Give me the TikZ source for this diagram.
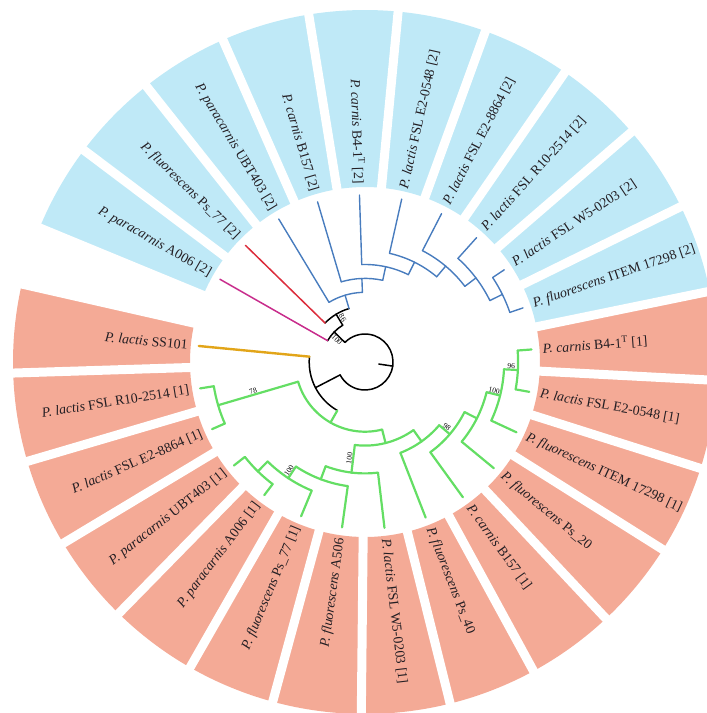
\documentclass[tikz,border=0pt]{standalone}
\usepackage{fontspec}
\setmainfont{Liberation Serif}
\definecolor{wblue}{RGB}{191,233,247}
\definecolor{wred}{RGB}{244,170,150}
\definecolor{bblue}{RGB}{72,124,190}
\definecolor{bgreen}{RGB}{100,222,100}
\definecolor{bred}{RGB}{220,45,60}
\definecolor{bmag}{RGB}{200,45,140}
\definecolor{borange}{RGB}{226,165,25}
\definecolor{txt}{RGB}{35,30,35}
\newcommand\tbranch[7]{%
  \draw[#6] (#1) arc[start angle=#2, end angle=#5, radius=#3pt] coordinate (#4e);
  \draw[#7] (#4e) -- (#4);
}
\begin{document}
\begin{tikzpicture}[x=1pt,y=1pt,
  lab/.style={font=\fontsize{13.8}{15}\selectfont, text=txt, inner sep=0pt},
  labr/.style={lab, anchor=west},
  labl/.style={lab, anchor=east},
  bs/.style={font=\fontsize{7.5}{8}\selectfont, inner sep=1pt, text=black},
  kb/.style={draw=black, line width=1.5pt, line cap=round},
  bb/.style={draw=bblue, line width=1.4pt, line cap=round},
  gb/.style={draw=bgreen, line width=2.2pt, line cap=round},
  ob/.style={draw=borange, line width=2.4pt, line cap=round},
  rb/.style={draw=bred, line width=1.5pt, line cap=round},
  mb/.style={draw=bmag, line width=1.5pt, line cap=round}]
\useasboundingbox (-365pt,-351pt) rectangle (342pt,362pt);
\clip (-365pt,-351pt) rectangle (342pt,362pt);
% wedges
\foreach \a/\c in {174.5/wred,189.1/wred,203.7/wred,218.3/wred,232.9/wred,247.5/wred,262.1/wred,276.7/wred,291.3/wred,305.9/wred,320.5/wred,335.1/wred,349.7/wred,364.3/wred,378.9/wblue,393.5/wblue,408.1/wblue,422.7/wblue,437.3/wblue,451.9/wblue,466.5/wblue,481.1/wblue,495.7/wblue,510.3/wblue}{%
  \pgfmathsetmacro\lo{\a-7.3}\pgfmathsetmacro\hi{\a+7.3}
  \fill[\c] (\lo:175pt) arc[start angle=\lo, end angle=\hi, radius=175pt] -- (\hi:352pt) arc[start angle=\hi, end angle=\lo, radius=352pt] -- cycle;
}
\foreach \k in {0,...,24}{%
  \pgfmathsetmacro\b{167.2+14.6*\k}
  \draw[white, line width=9pt] (\b:171pt) -- (\b:362pt);
}
% labels
\node[labl, rotate=-5.5] (l0) at (174.5:178pt) {\textit{P. lactis} SS101};
\node[labl, rotate=9.1] (l1) at (189.1:178pt) {\textit{P. lactis} FSL R10-2514 [1]};
\node[labl, rotate=23.7] (l2) at (203.7:178pt) {\textit{P. lactis} FSL E2-8864 [1]};
\node[labl, rotate=38.3] (l3) at (218.3:178pt) {\textit{P. paracarnis} UBT403 [1]};
\node[labl, rotate=52.9] (l4) at (232.9:178pt) {\textit{P. paracarnis} A006 [1]};
\node[labl, rotate=67.5] (l5) at (247.5:178pt) {\textit{P. fluorescens} Ps\_77 [1]};
\node[labl, rotate=82.1] (l6) at (262.1:178pt) {\textit{P. fluorescens} A506};
\node[labr, rotate=276.7] (l7) at (276.7:178pt) {\textit{P. lactis} FSL W5-0203 [1]};
\node[labr, rotate=291.3] (l8) at (291.3:178pt) {\textit{P. fluorescens} Ps\_40};
\node[labr, rotate=305.9] (l9) at (305.9:178pt) {\textit{P. carnis} B157 [1]};
\node[labr, rotate=320.5] (l10) at (320.5:178pt) {\textit{P. fluorescens} Ps\_20};
\node[labr, rotate=335.1] (l11) at (335.1:178pt) {\textit{P. fluorescens} ITEM 17298 [1]};
\node[labr, rotate=349.7] (l12) at (349.7:178pt) {\textit{P. lactis} FSL E2-0548 [1]};
\node[labr, rotate=4.3] (l13) at (4.3:178pt) {\textit{P. carnis} B4-1\textsuperscript{T} [1]};
\node[labr, rotate=18.9] (l14) at (18.9:178pt) {\textit{P. fluorescens} ITEM 17298 [2]};
\node[labr, rotate=33.5] (l15) at (33.5:178pt) {\textit{P. lactis} FSL W5-0203 [2]};
\node[labr, rotate=48.1] (l16) at (48.1:178pt) {\textit{P. lactis} FSL R10-2514 [2]};
\node[labr, rotate=62.7] (l17) at (62.7:178pt) {\textit{P. lactis} FSL E2-8864 [2]};
\node[labr, rotate=77.3] (l18) at (77.3:178pt) {\textit{P. lactis} FSL E2-0548 [2]};
\node[labl, rotate=-88.1] (l19) at (91.9:178pt) {\textit{P. carnis} B4-1\textsuperscript{T} [2]};
\node[labl, rotate=-73.5] (l20) at (106.5:178pt) {\textit{P. carnis} B157 [2]};
\node[labl, rotate=-58.9] (l21) at (121.1:178pt) {\textit{P. paracarnis} UBT403 [2]};
\node[labl, rotate=-44.3] (l22) at (135.7:178pt) {\textit{P. fluorescens} Ps\_77 [2]};
\node[labl, rotate=-29.7] (l23) at (150.3:178pt) {\textit{P. paracarnis} A006 [2]};
% tree coordinates
\coordinate (rs) at (351.57:14pt);
\coordinate (root) at (351.57:28pt);
\coordinate (A) at (207.41:55.8pt);
\coordinate (B) at (495.73:43pt);
\coordinate (C) at (481.16:55.8pt);
\coordinate (D) at (466.61:69.7pt);
\coordinate (N2) at (452.13:83.6pt);
\coordinate (N3) at (437.76:97.5pt);
\coordinate (N4) at (423.61:111.4pt);
\coordinate (N5) at (409.925:125.3pt);
\coordinate (N6) at (397.15:139.2pt);
\coordinate (N7) at (386.2:153.1pt);
\coordinate (G) at (240.31:69.7pt);
\coordinate (n78) at (196.4:153.1pt);
\coordinate (H) at (284.23:83.6pt);
\coordinate (H1) at (263.01:111.4pt);
\coordinate (X3) at (249.33:125.3pt);
\coordinate (X2) at (236.55:139.2pt);
\coordinate (X1) at (225.6:153.1pt);
\coordinate (H2) at (305.44:97.5pt);
\coordinate (Y4) at (319.59:111.4pt);
\coordinate (Y3) at (333.28:125.3pt);
\coordinate (Y2) at (346.05:139.2pt);
\coordinate (Y1) at (357:153.1pt);
\foreach \k/\a in {0/174.5,1/189.1,2/203.7,3/218.3,4/232.9,5/247.5,6/262.1,7/276.7,8/291.3,9/305.9,10/320.5,11/335.1,12/349.7,13/364.3,14/378.9,15/393.5,16/408.1,17/422.7,18/437.3,19/451.9,20/466.5,21/481.1,22/495.7,23/510.3}{%
  \coordinate (t\k) at (\a:167pt);
}
% branches
\draw[kb] (rs) -- (root);
\tbranch{root}{351.57}{28}{A}{207.41}{kb}{kb}
\tbranch{root}{351.57}{28}{B}{495.73}{kb}{kb}
\tbranch{B}{495.73}{43}{t23}{510.3}{kb}{mb}
\tbranch{B}{495.73}{43}{C}{481.16}{kb}{kb}
\tbranch{C}{481.16}{55.8}{t22}{495.7}{kb}{rb}
\tbranch{C}{481.16}{55.8}{D}{466.61}{kb}{bb}
\tbranch{D}{466.61}{69.7}{t21}{481.1}{bb}{bb}
\tbranch{D}{466.61}{69.7}{N2}{452.13}{bb}{bb}
\tbranch{N2}{452.13}{83.6}{t20}{466.5}{bb}{bb}
\tbranch{N2}{452.13}{83.6}{N3}{437.76}{bb}{bb}
\tbranch{N3}{437.76}{97.5}{t19}{451.9}{bb}{bb}
\tbranch{N3}{437.76}{97.5}{N4}{423.61}{bb}{bb}
\tbranch{N4}{423.61}{111.4}{t18}{437.3}{bb}{bb}
\tbranch{N4}{423.61}{111.4}{N5}{409.925}{bb}{bb}
\tbranch{N5}{409.925}{125.3}{t17}{422.7}{bb}{bb}
\tbranch{N5}{409.925}{125.3}{N6}{397.15}{bb}{bb}
\tbranch{N6}{397.15}{139.2}{t16}{408.1}{bb}{bb}
\tbranch{N6}{397.15}{139.2}{N7}{386.2}{bb}{bb}
\tbranch{N7}{386.2}{153.1}{t15}{393.5}{bb}{bb}
\tbranch{N7}{386.2}{153.1}{t14}{378.9}{bb}{bb}
\tbranch{A}{207.41}{55.8}{t0}{174.5}{kb}{ob}
\tbranch{A}{207.41}{55.8}{G}{240.31}{kb}{gb}
\tbranch{G}{240.31}{69.7}{n78}{196.4}{gb}{gb}
\tbranch{G}{240.31}{69.7}{H}{284.23}{gb}{gb}
\tbranch{n78}{196.4}{153.1}{t1}{189.1}{gb}{gb}
\tbranch{n78}{196.4}{153.1}{t2}{203.7}{gb}{gb}
\tbranch{H}{284.23}{83.6}{H1}{263.01}{gb}{gb}
\tbranch{H}{284.23}{83.6}{H2}{305.44}{gb}{gb}
\tbranch{H1}{263.01}{111.4}{X3}{249.33}{gb}{gb}
\tbranch{H1}{263.01}{111.4}{t7}{276.7}{gb}{gb}
\tbranch{X3}{249.33}{125.3}{X2}{236.55}{gb}{gb}
\tbranch{X3}{249.33}{125.3}{t6}{262.1}{gb}{gb}
\tbranch{X2}{236.55}{139.2}{X1}{225.6}{gb}{gb}
\tbranch{X2}{236.55}{139.2}{t5}{247.5}{gb}{gb}
\tbranch{X1}{225.6}{153.1}{t3}{218.3}{gb}{gb}
\tbranch{X1}{225.6}{153.1}{t4}{232.9}{gb}{gb}
\tbranch{H2}{305.44}{97.5}{t8}{291.3}{gb}{gb}
\tbranch{H2}{305.44}{97.5}{Y4}{319.59}{gb}{gb}
\tbranch{Y4}{319.59}{111.4}{t9}{305.9}{gb}{gb}
\tbranch{Y4}{319.59}{111.4}{Y3}{333.28}{gb}{gb}
\tbranch{Y3}{333.28}{125.3}{t10}{320.5}{gb}{gb}
\tbranch{Y3}{333.28}{125.3}{Y2}{346.05}{gb}{gb}
\tbranch{Y2}{346.05}{139.2}{t11}{335.1}{gb}{gb}
\tbranch{Y2}{346.05}{139.2}{Y1}{357}{gb}{gb}
\tbranch{Y1}{357}{153.1}{t12}{349.7}{gb}{gb}
\tbranch{Y1}{357}{153.1}{t13}{364.3}{gb}{gb}
% bootstrap values
\path (Be) -- node[bs, sloped, midway, below] (sB) {100} (B);
\path (Ce) -- node[bs, sloped, midway, above] (sC) {86} (C);
\path (n78e) -- node[bs, sloped, pos=0.55, above] (s78) {78} (n78);
\path (X2e) -- node[bs, sloped, midway, above] (sX2) {100} (X2);
\path (H1e) -- node[bs, sloped, midway, above] (sH1) {100} (H1);
\path (Y4e) -- node[bs, sloped, midway, above] (sY4) {98} (Y4);
\path (Y2e) -- node[bs, sloped, midway, above] (sY2) {100} (Y2);
\path (Y1e) -- node[bs, sloped, midway, above] (sY1) {96} (Y1);
\end{tikzpicture}
\end{document}
